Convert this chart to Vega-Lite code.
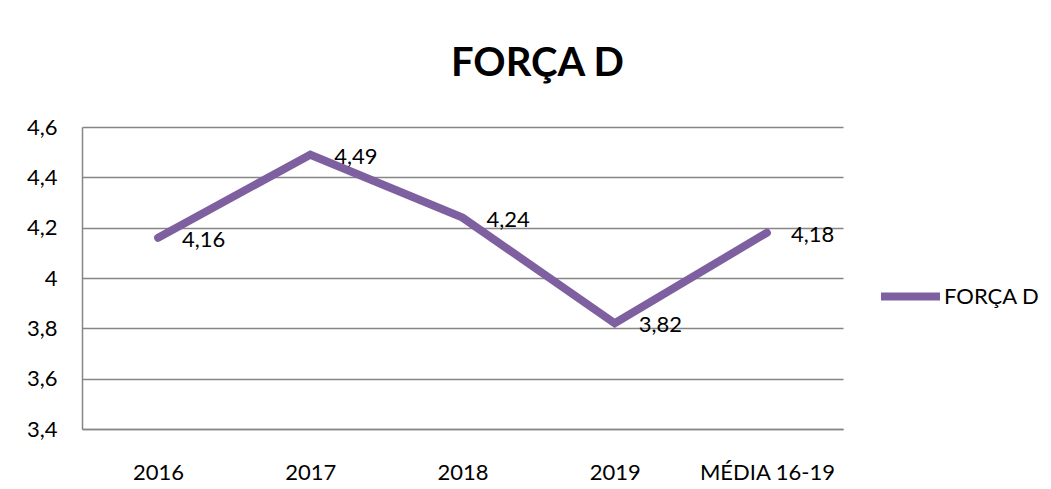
{
  "$schema": "https://vega.github.io/schema/vega-lite/v6.json",
  "autosize": "none",
  "width": 761,
  "height": 302,
  "padding": {"left": 82, "top": 127, "right": 208, "bottom": 60},
  "background": "white",
  "config": {
    "font": "Lato",
    "locale": {"number": {"decimal": ",", "thousands": ".", "grouping": [3], "currency": ["", ""]}},
    "view": {"stroke": null}
  },
  "title": {
    "text": "FORÇA D",
    "font": "Lato",
    "fontSize": 40,
    "fontWeight": "bold",
    "color": "black",
    "anchor": "middle",
    "dx": 75,
    "baseline": "alphabetic",
    "offset": 0
  },
  "data": {
    "values": [
      {"ano": "2016", "valor": 4.16, "serie": "FORÇA D"},
      {"ano": "2017", "valor": 4.49, "serie": "FORÇA D"},
      {"ano": "2018", "valor": 4.24, "serie": "FORÇA D"},
      {"ano": "2019", "valor": 3.82, "serie": "FORÇA D"},
      {"ano": "MÉDIA 16-19", "valor": 4.18, "serie": "FORÇA D"}
    ]
  },
  "encoding": {
    "x": {
      "field": "ano",
      "type": "nominal",
      "sort": null,
      "scale": {"padding": 0.5},
      "axis": {
        "title": null,
        "labelAngle": 0,
        "labelFont": "Lato",
        "labelFontSize": 22,
        "labelColor": "black",
        "labelPadding": 33,
        "ticks": false,
        "domainColor": "#868686",
        "domainWidth": 1.5,
        "grid": false
      }
    },
    "y": {
      "field": "valor",
      "type": "quantitative",
      "scale": {"domain": [3.4, 4.6], "nice": false, "zero": false},
      "axis": {
        "title": null,
        "values": [3.4, 3.6, 3.8, 4.0, 4.2, 4.4, 4.6],
        "labelExpr": "replace(format(datum.value, '~g'), '.', ',')",
        "labelFont": "Lato",
        "labelFontSize": 22,
        "labelColor": "black",
        "labelPadding": 25,
        "ticks": false,
        "domainColor": "#868686",
        "domainWidth": 1.5,
        "grid": true,
        "gridColor": "#868686",
        "gridWidth": 1.5
      }
    }
  },
  "layer": [
    {
      "mark": {"type": "line", "strokeWidth": 8, "strokeCap": "round", "strokeJoin": "miter"},
      "encoding": {
        "color": {
          "field": "serie",
          "type": "nominal",
          "scale": {"range": ["#7E60A0"]},
          "legend": {
            "title": null,
            "orient": "none",
            "legendX": 795,
            "legendY": 136,
            "padding": 0,
            "symbolType": "stroke",
            "symbolSize": 3481,
            "symbolStrokeWidth": 8,
            "labelFont": "Lato",
            "labelFontSize": 22,
            "labelColor": "black",
            "labelOffset": 0
          }
        }
      }
    },
    {
      "mark": {"type": "text", "align": "left", "baseline": "middle", "dx": 24, "dy": 2, "font": "Lato", "fontSize": 22, "color": "black"},
      "encoding": {
        "text": {"field": "valor", "type": "quantitative", "format": ".2f"}
      }
    }
  ]
}
